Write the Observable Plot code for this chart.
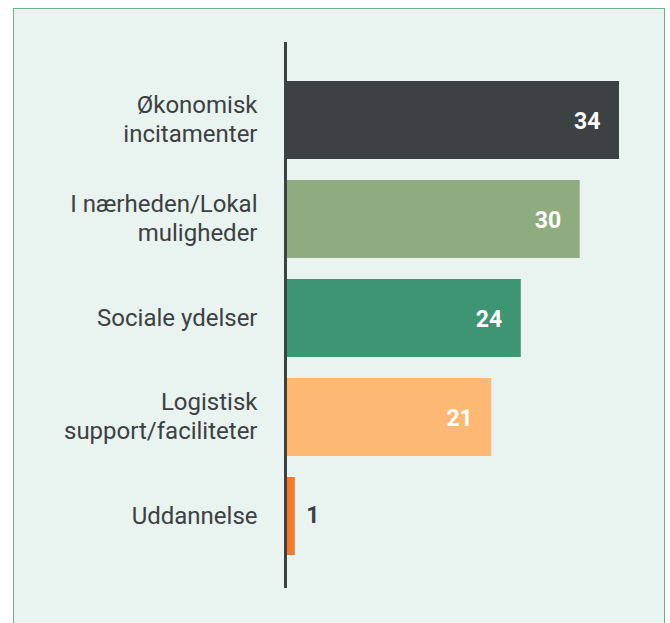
<!DOCTYPE html>
<html>
<head>
<meta charset="utf-8">
<script src="https://cdn.jsdelivr.net/npm/d3@7"></script>
<script src="https://cdn.jsdelivr.net/npm/@observablehq/plot@0.6"></script>
<style>
  html, body { margin: 0; padding: 0; background: #ffffff; }
  #wrap { position: relative; width: 670px; height: 623px; overflow: hidden; }
  #panel {
    position: absolute; left: 13px; top: 8px; width: 650px; height: 640px;
    background: #e9f3ef; border: 1.5px solid #6cb08e;
  }
  #chart { position: absolute; left: 0; top: 0; }
  #chart svg { background: transparent; }
</style>
</head>
<body>
<div id="wrap">
  <div id="panel"></div>
  <div id="chart"></div>
</div>
<script>
const categories = [
  "Økonomisk\nincitamenter",
  "I nærheden/Lokal\nmuligheder",
  "Sociale ydelser",
  "Logistisk\nsupport/faciliteter",
  "Uddannelse"
];
const values = [34, 30, 24, 21, 1];
const colors = ["#3c4144", "#8fac7e", "#3e9573", "#fdb873", "#f47b2c"];

const data = categories.map((c, i) => ({category: c, value: values[i], color: colors[i]}));
const inside = data.filter(d => d.value >= 5);
const outside = data.filter(d => d.value < 5);

const chart = Plot.plot({
  width: 670,
  height: 623,
  marginTop: 42,
  marginBottom: 35,
  marginLeft: 285,
  marginRight: 0,
  style: {background: "transparent", fontFamily: "Roboto, sans-serif"},
  x: {domain: [0, 34], range: [285, 619], axis: null},
  y: {domain: categories, range: [60, 576], padding: 0.212, axis: null},
  marks: [
    Plot.barX(data, {x: "value", y: "category", fill: "color"}),
    Plot.ruleX([0], {stroke: "#3c4144", strokeWidth: 3}),
    Plot.text(data, {
      x: 0, y: "category", text: "category",
      textAnchor: "end", dx: -28, dy: -2, fontSize: 24, lineHeight: 1.2,
      fill: "#3c4043"
    }),
    Plot.text(inside, {
      x: "value", y: "category", text: d => String(d.value),
      textAnchor: "end", dx: -19, dy: 1, fontSize: 23, fontWeight: "bold", fill: "#ffffff"
    }),
    Plot.text(outside, {
      x: "value", y: "category", text: d => String(d.value),
      textAnchor: "start", dx: 11, dy: -1, fontSize: 23, fontWeight: "bold", fill: "#3c4043"
    })
  ]
});
document.getElementById("chart").appendChild(chart);
</script>
</body>
</html>
